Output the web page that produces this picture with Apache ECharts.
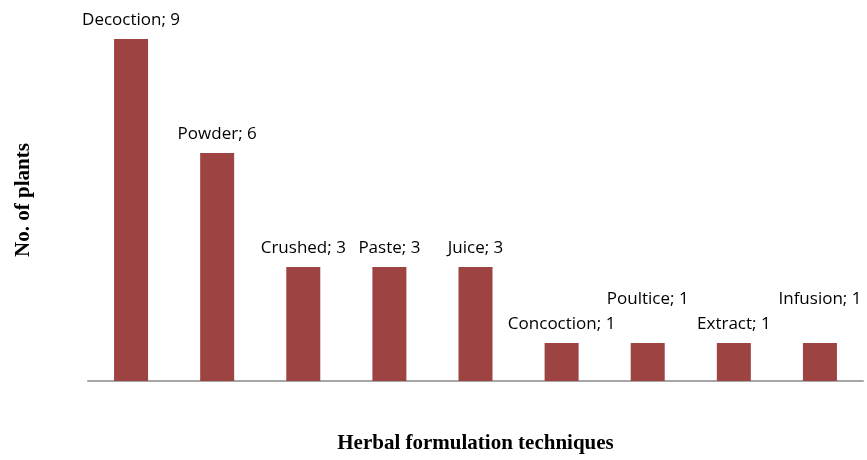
<!DOCTYPE html>
<html>
<head>
<meta charset="utf-8">
<script src="https://cdn.jsdelivr.net/npm/echarts@6/dist/echarts.min.js"></script>
<style>
  html, body { margin: 0; padding: 0; background: #fff; }
  #chart { width: 867px; height: 460px; }
</style>
</head>
<body>
<div id="chart"></div>
<script>
// data
const techniques = ['Decoction', 'Powder', 'Crushed', 'Paste', 'Juice', 'Concoction', 'Poultice', 'Extract', 'Infusion']
const plantCounts = [9, 6, 3, 3, 3, 1, 1, 1, 1]
// labels that sit higher to avoid overlapping neighbours
const raisedLabels = ['Poultice', 'Infusion']

const BAR_COLOR = '#9d4341'

const chart = echarts.init(document.getElementById('chart'))

chart.setOption({
  animation: false,
  grid: { left: 88, right: 4, top: 39, bottom: 79, outerBoundsMode: 'none', containLabel: false },
  xAxis: {
    type: 'category',
    data: techniques,
    axisLine: { lineStyle: { color: '#a6a6a6', width: 2 } },
    axisTick: { show: false },
    axisLabel: { show: false },
    name: 'Herbal formulation techniques',
    nameLocation: 'middle',
    nameGap: 52,
    nameTextStyle: {
      fontFamily: 'Liberation Serif',
      fontWeight: 'bold',
      fontSize: 21,
      color: '#000',
    },
  },
  yAxis: {
    type: 'value',
    min: 0,
    max: 9,
    splitLine: { show: false },
    axisLine: { show: false },
    axisTick: { show: false },
    axisLabel: { show: false },
    name: 'No. of plants',
    nameLocation: 'middle',
    nameRotate: 90,
    nameGap: 54,
    nameTextStyle: {
      fontFamily: 'Liberation Serif',
      fontWeight: 'bold',
      fontSize: 21,
      color: '#000',
      padding: [0, 0, 0, 20],
    },
  },
  series: [
    {
      type: 'bar',
      barWidth: 34,
      itemStyle: { color: BAR_COLOR },
      data: plantCounts.map((v, i) => ({
        value: v,
        label: {
          distance: raisedLabels.includes(techniques[i]) ? 35 : 10,
        },
      })),
      label: {
        show: true,
        position: 'top',
        fontFamily: 'Open Sans',
        fontSize: 17,
        color: '#000',
        formatter: (p) => `${p.name}; ${p.value}`,
      },
    },
  ],
})
</script>
</body>
</html>
